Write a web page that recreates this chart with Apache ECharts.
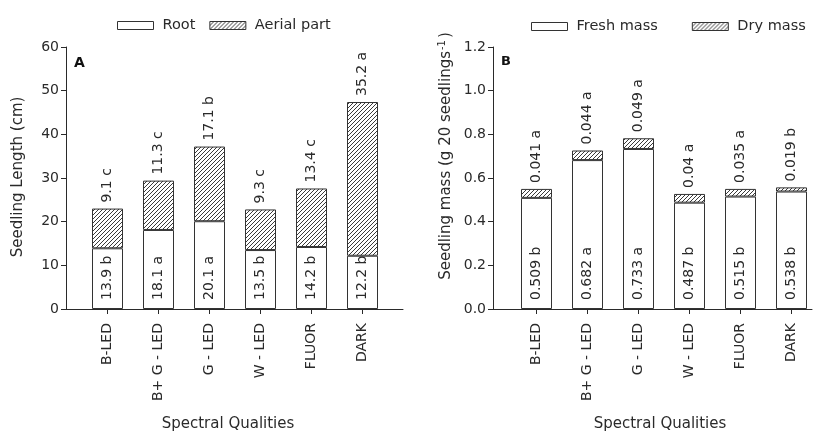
<!DOCTYPE html>
<html>
<head>
<meta charset="utf-8">
<script src="https://cdn.jsdelivr.net/npm/echarts@6/dist/echarts.min.js"></script>
<style>
  html, body { margin: 0; padding: 0; background: #fff; }
  #chart { width: 820px; height: 432px; }
</style>
</head>
<body>
<div id="chart"></div>
<script>
// Spectral quality treatments
const categories = ['B-LED', 'B+ G - LED', 'G - LED', 'W - LED', 'FLUOR', 'DARK'];

// Panel A: seedling length (cm)
const rootLength = [13.9, 18.1, 20.1, 13.5, 14.2, 12.2];
const rootLetters = ['b', 'a', 'a', 'b', 'b', 'b'];
const aerialLength = [9.1, 11.3, 17.1, 9.3, 13.4, 35.2];
const aerialLetters = ['c', 'c', 'b', 'c', 'c', 'a'];

// Panel B: seedling mass (g 20 seedlings^-1)
const freshMass = [0.509, 0.682, 0.733, 0.487, 0.515, 0.538];
const freshLetters = ['b', 'a', 'a', 'b', 'b', 'b'];
const dryMass = [0.041, 0.044, 0.049, 0.04, 0.035, 0.019];
const dryLetters = ['a', 'a', 'a', 'a', 'a', 'b'];

const lengthTicks = { min: 0, max: 60, interval: 10 };
const massTicks = { min: 0, max: 1.2, interval: 0.2 };

const FONT = 'DejaVu Sans';
const INK = '#2a2a2a';

// Diagonal hatch tile for the stacked upper segments
function hatchPattern() {
  const s = 4;
  const c = document.createElement('canvas');
  c.width = s; c.height = s;
  const g = c.getContext('2d');
  g.fillStyle = '#fff';
  g.fillRect(0, 0, s, s);
  g.strokeStyle = '#3a3a3a';
  g.lineWidth = 1;
  g.beginPath();
  g.moveTo(-1, s + 1); g.lineTo(s + 1, -1);
  g.moveTo(-1, 1); g.lineTo(1, -1);
  g.moveTo(s - 1, s + 1); g.lineTo(s + 1, s - 1);
  g.stroke();
  return { image: c, repeat: 'repeat' };
}
const hatch = hatchPattern();

const gridTop = 47, gridBottom = 123;

function catAxis(gridIndex) {
  return {
    type: 'category', gridIndex, data: categories,
    axisLine: { show: false },
    axisTick: { show: true, alignWithLabel: true, length: 5, lineStyle: { color: INK } },
    axisLabel: { rotate: 90, margin: 14, color: INK, fontFamily: FONT, fontSize: 14 }
  };
}
function lineAxis(gridIndex) {
  return {
    type: 'value', gridIndex, min: 0, max: 1,
    axisLine: { show: true, lineStyle: { color: INK, width: 1 } },
    axisTick: { show: false }, axisLabel: { show: false }, splitLine: { show: false }
  };
}
function valAxis(gridIndex, t, offset, fmt) {
  return {
    type: 'value', gridIndex, min: t.min, max: t.max, interval: t.interval, offset,
    axisLine: { show: true, lineStyle: { color: INK, width: 1 } },
    axisTick: { show: true, length: 5, lineStyle: { color: INK } },
    axisLabel: { margin: 7, color: INK, fontFamily: FONT, fontSize: 14, formatter: fmt },
    splitLine: { show: false }
  };
}
function hiddenY(gridIndex) {
  return { type: 'value', gridIndex, min: 0, max: 1, show: false };
}

const labelBase = { show: true, rotate: 90, align: 'left', verticalAlign: 'middle',
  color: INK, fontFamily: FONT, fontSize: 14 };

function lowerSeries(name, values, letters, xi, yi) {
  return {
    name, type: 'bar', stack: 's' + xi, xAxisIndex: xi, yAxisIndex: yi,
    barWidth: 31, data: values,
    itemStyle: { color: '#fff', borderColor: '#333', borderWidth: 1 },
    label: Object.assign({}, labelBase, {
      position: 'insideBottom', distance: 9,
      formatter: p => p.value + ' ' + letters[p.dataIndex]
    })
  };
}
function upperSeries(name, values, letters, xi, yi) {
  return {
    name, type: 'bar', stack: 's' + xi, xAxisIndex: xi, yAxisIndex: yi,
    barWidth: 31, data: values,
    itemStyle: { color: hatch, borderColor: '#333', borderWidth: 1 },
    label: Object.assign({}, labelBase, {
      position: 'top', distance: 6,
      formatter: p => p.value + ' ' + letters[p.dataIndex]
    })
  };
}

const legendText = { color: INK, fontFamily: FONT, fontSize: 14.5, padding: [0, 0, 0, 4] };

const option = {
  animation: false,
  backgroundColor: '#fff',
  grid: [
    { left: 82, width: 306, top: gridTop, bottom: gridBottom },
    { left: 511, width: 306, top: gridTop, bottom: gridBottom },
    { left: 66, width: 337, top: gridTop, bottom: gridBottom },
    { left: 493, width: 319, top: gridTop, bottom: gridBottom }
  ],
  xAxis: [catAxis(0), catAxis(1), lineAxis(2), lineAxis(3)],
  yAxis: [
    valAxis(0, lengthTicks, 16, v => v),
    valAxis(1, massTicks, 18, v => v.toFixed(1)),
    hiddenY(2), hiddenY(3)
  ],
  legend: [
    {
      data: ['Root', 'Aerial part'], left: 112, top: 13,
      itemWidth: 36, itemHeight: 8, itemGap: 14, icon: 'rect',
      itemStyle: { borderColor: '#333', borderWidth: 1 },
      textStyle: legendText
    },
    {
      data: ['Fresh mass', 'Dry mass'], left: 526, top: 14,
      itemWidth: 36, itemHeight: 8, itemGap: 34, icon: 'rect',
      itemStyle: { borderColor: '#333', borderWidth: 1 },
      textStyle: legendText
    }
  ],
  graphic: [
    { type: 'text', left: 74, top: 56, style: { text: 'A', font: 'bold 14px ' + FONT, fill: '#111' } },
    { type: 'text', left: 501, top: 55, style: { text: 'B', font: 'bold 13px ' + FONT, fill: '#111' } },
    { type: 'text', x: 228, y: 424, style: { text: 'Spectral Qualities', font: '15px ' + FONT, fill: INK,
      textAlign: 'center', textVerticalAlign: 'middle' } },
    { type: 'text', x: 660, y: 424, style: { text: 'Spectral Qualities', font: '15px ' + FONT, fill: INK,
      textAlign: 'center', textVerticalAlign: 'middle' } },
    { type: 'text', x: 18, y: 177, rotation: Math.PI / 2,
      style: { text: 'Seedling Length (cm)', font: '15px ' + FONT, fill: INK,
        textAlign: 'center', textVerticalAlign: 'middle' } },
    { type: 'text', x: 446, y: 156, rotation: Math.PI / 2,
      style: {
        text: '{t|Seedling mass (g 20 seedlings}{s|-1}{t|)}',
        textAlign: 'center', textVerticalAlign: 'middle',
        rich: {
          t: { font: '15px ' + FONT, fill: INK, color: INK },
          s: { font: '10px ' + FONT, fill: INK, color: INK, verticalAlign: 'top', padding: [0, 2, 8, 1] }
        }
      } }
  ],
  series: [
    lowerSeries('Root', rootLength, rootLetters, 0, 0),
    upperSeries('Aerial part', aerialLength, aerialLetters, 0, 0),
    lowerSeries('Fresh mass', freshMass, freshLetters, 1, 1),
    upperSeries('Dry mass', dryMass, dryLetters, 1, 1)
  ]
};

const chart = echarts.init(document.getElementById('chart'), null, { renderer: 'canvas' });
chart.setOption(option);
</script>
</body>
</html>
